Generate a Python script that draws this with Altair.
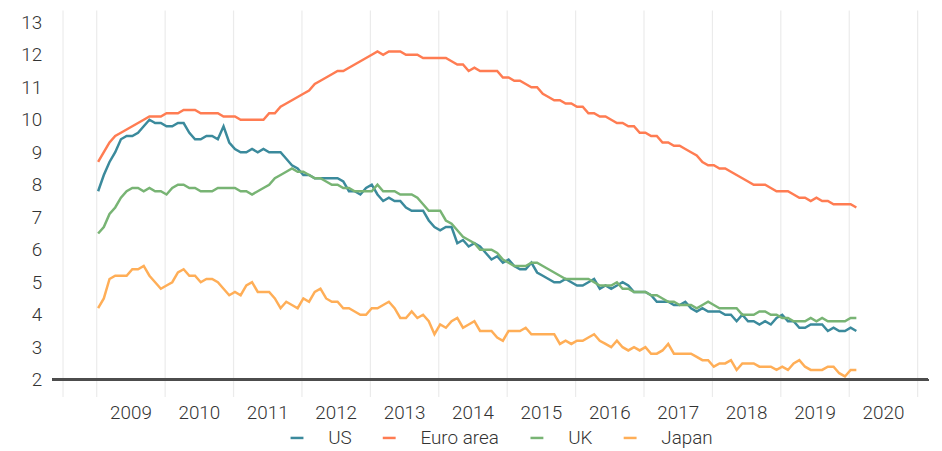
import altair as alt
import pandas as pd

series = ["US", "Euro area", "UK", "Japan"]
colors = ["#3b8a9c", "#ff7c52", "#78b474", "#ffae57"]
start_year = 2009

us = [7.8, 8.3, 8.7, 9.0, 9.4, 9.5, 9.5, 9.6, 9.8, 10.0, 9.9, 9.9,
      9.8, 9.8, 9.9, 9.9, 9.6, 9.4, 9.4, 9.5, 9.5, 9.4, 9.8, 9.3,
      9.1, 9.0, 9.0, 9.1, 9.0, 9.1, 9.0, 9.0, 9.0, 8.8, 8.6, 8.5,
      8.3, 8.3, 8.2, 8.2, 8.2, 8.2, 8.2, 8.1, 7.8, 7.8, 7.7, 7.9,
      8.0, 7.7, 7.5, 7.6, 7.5, 7.5, 7.3, 7.2, 7.2, 7.2, 6.9, 6.7,
      6.6, 6.7, 6.7, 6.2, 6.3, 6.1, 6.2, 6.1, 5.9, 5.7, 5.8, 5.6,
      5.7, 5.5, 5.4, 5.4, 5.6, 5.3, 5.2, 5.1, 5.0, 5.0, 5.1, 5.0,
      4.9, 4.9, 5.0, 5.1, 4.8, 4.9, 4.8, 4.9, 5.0, 4.9, 4.7, 4.7,
      4.7, 4.6, 4.4, 4.4, 4.4, 4.3, 4.3, 4.4, 4.2, 4.1, 4.2, 4.1,
      4.1, 4.1, 4.0, 4.0, 3.8, 4.0, 3.8, 3.8, 3.7, 3.8, 3.7, 3.9,
      4.0, 3.8, 3.8, 3.6, 3.6, 3.7, 3.7, 3.7, 3.5, 3.6, 3.5, 3.5,
      3.6, 3.5]

euro = [8.7, 9.0, 9.3, 9.5, 9.6, 9.7, 9.8, 9.9, 10.0, 10.1, 10.1, 10.1,
        10.2, 10.2, 10.2, 10.3, 10.3, 10.3, 10.2, 10.2, 10.2, 10.2, 10.1, 10.1,
        10.1, 10.0, 10.0, 10.0, 10.0, 10.0, 10.2, 10.2, 10.4, 10.5, 10.6, 10.7,
        10.8, 10.9, 11.1, 11.2, 11.3, 11.4, 11.5, 11.5, 11.6, 11.7, 11.8, 11.9,
        12.0, 12.1, 12.0, 12.1, 12.1, 12.1, 12.0, 12.0, 12.0, 11.9, 11.9, 11.9,
        11.9, 11.9, 11.8, 11.7, 11.7, 11.5, 11.6, 11.5, 11.5, 11.5, 11.5, 11.3,
        11.3, 11.2, 11.2, 11.1, 11.0, 11.0, 10.8, 10.7, 10.6, 10.6, 10.5, 10.5,
        10.4, 10.4, 10.2, 10.2, 10.1, 10.1, 10.0, 9.9, 9.9, 9.8, 9.8, 9.6,
        9.6, 9.5, 9.5, 9.3, 9.3, 9.2, 9.2, 9.1, 9.0, 8.9, 8.7, 8.6,
        8.6, 8.5, 8.5, 8.4, 8.3, 8.2, 8.1, 8.0, 8.0, 8.0, 7.9, 7.8,
        7.8, 7.8, 7.7, 7.6, 7.6, 7.5, 7.6, 7.5, 7.5, 7.4, 7.4, 7.4,
        7.4, 7.3]

uk = [6.5, 6.7, 7.1, 7.3, 7.6, 7.8, 7.9, 7.9, 7.8, 7.9, 7.8, 7.8,
      7.7, 7.9, 8.0, 8.0, 7.9, 7.9, 7.8, 7.8, 7.8, 7.9, 7.9, 7.9,
      7.9, 7.8, 7.8, 7.7, 7.8, 7.9, 8.0, 8.2, 8.3, 8.4, 8.5, 8.4,
      8.4, 8.3, 8.2, 8.2, 8.1, 8.0, 8.0, 7.9, 7.9, 7.8, 7.8, 7.8,
      7.8, 8.0, 7.8, 7.8, 7.8, 7.7, 7.7, 7.7, 7.6, 7.4, 7.2, 7.2,
      7.2, 6.9, 6.8, 6.6, 6.4, 6.3, 6.2, 6.0, 6.0, 6.0, 5.9, 5.7,
      5.6, 5.5, 5.5, 5.5, 5.6, 5.6, 5.5, 5.4, 5.3, 5.2, 5.1, 5.1,
      5.1, 5.1, 5.1, 5.0, 4.9, 4.9, 4.9, 5.0, 4.8, 4.8, 4.7, 4.7,
      4.7, 4.6, 4.6, 4.5, 4.4, 4.4, 4.3, 4.3, 4.3, 4.2, 4.3, 4.4,
      4.3, 4.2, 4.2, 4.2, 4.2, 4.0, 4.0, 4.0, 4.1, 4.1, 4.0, 4.0,
      3.9, 3.9, 3.8, 3.8, 3.8, 3.9, 3.8, 3.9, 3.8, 3.8, 3.8, 3.8,
      3.9, 3.9]

japan = [4.2, 4.5, 5.1, 5.2, 5.2, 5.2, 5.4, 5.4, 5.5, 5.2, 5.0, 4.8,
         4.9, 5.0, 5.3, 5.4, 5.2, 5.2, 5.0, 5.1, 5.1, 5.0, 4.8, 4.6,
         4.7, 4.6, 4.9, 5.0, 4.7, 4.7, 4.7, 4.5, 4.2, 4.4, 4.3, 4.2,
         4.5, 4.4, 4.7, 4.8, 4.5, 4.4, 4.4, 4.2, 4.2, 4.1, 4.0, 4.0,
         4.2, 4.2, 4.3, 4.4, 4.2, 3.9, 3.9, 4.1, 3.9, 4.0, 3.8, 3.4,
         3.7, 3.6, 3.8, 3.9, 3.6, 3.7, 3.8, 3.5, 3.5, 3.5, 3.3, 3.2,
         3.5, 3.5, 3.5, 3.6, 3.4, 3.4, 3.4, 3.4, 3.4, 3.1, 3.2, 3.1,
         3.2, 3.2, 3.3, 3.4, 3.2, 3.1, 3.0, 3.2, 3.0, 2.9, 3.0, 2.9,
         3.0, 2.8, 2.8, 2.9, 3.1, 2.8, 2.8, 2.8, 2.8, 2.7, 2.6, 2.6,
         2.4, 2.5, 2.5, 2.6, 2.3, 2.5, 2.5, 2.5, 2.4, 2.4, 2.4, 2.3,
         2.4, 2.3, 2.5, 2.6, 2.4, 2.3, 2.3, 2.3, 2.4, 2.4, 2.2, 2.1,
         2.3, 2.3]

y_ticks = list(range(2, 14))
x_grid = [2008.5] + list(range(2009, 2022))

rows = []
for name, vals in zip(series, [us, euro, uk, japan]):
    for i, v in enumerate(vals):
        # decimal year of the ~10th day of each month
        rows.append({"series": name, "t": start_year + (i + 0.33) / 12, "value": v})
df = pd.DataFrame(rows)

x_enc = alt.X(
    "t:Q",
    scale=alt.Scale(domain=[2008.3623, 2021.159], nice=False, zero=False),
    axis=alt.Axis(
        values=x_grid,
        labelExpr="(datum.value >= 2009 && datum.value <= 2020 && datum.value == floor(datum.value)) ? format(datum.value, 'd') : ''",
        labelOffset=34.5,
        labelPadding=7,
        labelOverlap=False,
        labelFlush=False,
        title=None,
    ),
)
y_scale = alt.Scale(domain=[1.481, 13.381], nice=False, zero=False)
y_axis = alt.Axis(values=y_ticks, format="d", labelPadding=11,
                  labelOverlap=False, labelFlush=False, title=None)

lines = alt.Chart(df).mark_line(strokeWidth=2.5).encode(
    x=x_enc,
    y=alt.Y("value:Q", scale=y_scale, axis=y_axis),
    color=alt.Color(
        "series:N",
        scale=alt.Scale(domain=series, range=colors),
        sort=series,
        legend=alt.Legend(
            orient="none",
            legendX=237,
            legendY=422,
            direction="horizontal",
            title=None,
            symbolType="stroke",
            symbolSize=169,
            symbolStrokeWidth=2.5,
            labelOffset=22,
            columnPadding=26,
            labelFontSize=19,
            labelFont="Roboto",
            labelFontWeight=300,
            labelColor="#333333",
            padding=0,
        ),
    ),
    detail="series:N",
)

zero_rule = alt.Chart(df).mark_rule(color="#4d4d4d", strokeWidth=2).encode(
    y=alt.YDatum(2, scale=y_scale, axis=y_axis)
)

chart = (
    alt.layer(zero_rule, lines)
    .properties(
        width=883,
        height=390,
        padding={"left": 45, "top": 0, "right": 6, "bottom": 53},
        autosize=alt.AutoSizeParams(type="none"),
    )
    .configure_view(stroke=None)
    .configure_axis(
        labelFont="Roboto",
        labelFontSize=19,
        labelFontWeight=300,
        labelColor="#333333",
        gridColor="#ebebeb",
        gridWidth=1.2,
        domain=False,
        ticks=False,
    )
)

chart.save("out.html", embed_options={"renderer": "svg", "actions": False})
